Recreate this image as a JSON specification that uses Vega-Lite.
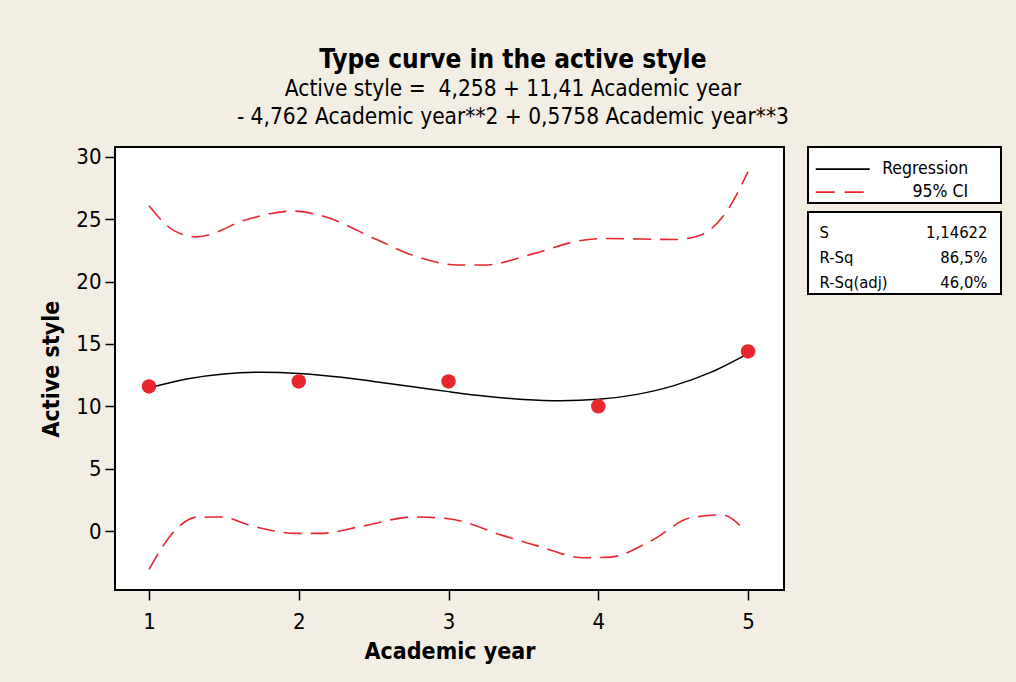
{
  "$schema": "https://vega.github.io/schema/vega-lite/v6.json",
  "background": "#F3EEE4",
  "padding": {"left": 39, "top": 47, "right": 15, "bottom": 30},
  "config": {
    "font": "DejaVu Sans Condensed, DejaVu Sans",
    "view": {"fill": "white", "stroke": "black", "strokeWidth": 2},
    "axis": {"labelFont": "DejaVu Sans Condensed, DejaVu Sans", "titleFont": "DejaVu Sans Condensed, DejaVu Sans"}
  },
  "title": {
    "text": "Type curve in the active style",
    "subtitle": ["Active style =\u00a0 4,258 + 11,41 Academic year", "- 4,762 Academic year**2 + 0,5758 Academic year**3"],
    "fontSize": 26,
    "fontWeight": "bold",
    "color": "black",
    "subtitleFontSize": 22.5,
    "subtitleColor": "black",
    "subtitleLineHeight": 28,
    "subtitlePadding": 5,
    "anchor": "middle",
    "dx": -8,
    "offset": 16
  },
  "datasets": {
    "fit": [
      {"year": 1.0, "value": 11.48}, {"year": 1.25, "value": 12.2}, {"year": 1.5, "value": 12.6},
      {"year": 1.75, "value": 12.73}, {"year": 2.0, "value": 12.64}, {"year": 2.25, "value": 12.38},
      {"year": 2.5, "value": 12.0}, {"year": 2.75, "value": 11.6}, {"year": 3.0, "value": 11.18},
      {"year": 3.25, "value": 10.81}, {"year": 3.5, "value": 10.55}, {"year": 3.75, "value": 10.44},
      {"year": 4.0, "value": 10.56}, {"year": 4.25, "value": 10.94}, {"year": 4.5, "value": 11.64},
      {"year": 4.75, "value": 12.72}, {"year": 5.0, "value": 14.23}
    ],
    "ci": [
      {"bound": "upper", "year": 1.0, "value": 26.09}, {"bound": "upper", "year": 1.17, "value": 24.07},
      {"bound": "upper", "year": 1.32, "value": 23.59}, {"bound": "upper", "year": 1.66, "value": 25.01},
      {"bound": "upper", "year": 1.96, "value": 25.66}, {"bound": "upper", "year": 2.14, "value": 25.33},
      {"bound": "upper", "year": 2.52, "value": 23.38}, {"bound": "upper", "year": 2.76, "value": 22.12},
      {"bound": "upper", "year": 3.06, "value": 21.34}, {"bound": "upper", "year": 3.24, "value": 21.34},
      {"bound": "upper", "year": 3.57, "value": 22.25}, {"bound": "upper", "year": 3.87, "value": 23.27},
      {"bound": "upper", "year": 4.05, "value": 23.46}, {"bound": "upper", "year": 4.51, "value": 23.38},
      {"bound": "upper", "year": 4.68, "value": 23.73}, {"bound": "upper", "year": 4.84, "value": 25.34},
      {"bound": "upper", "year": 5.0, "value": 28.82},
      {"bound": "lower", "year": 1.0, "value": -3.08}, {"bound": "lower", "year": 1.18, "value": 0.13},
      {"bound": "lower", "year": 1.33, "value": 1.13}, {"bound": "lower", "year": 1.48, "value": 1.13},
      {"bound": "lower", "year": 1.69, "value": 0.4}, {"bound": "lower", "year": 1.99, "value": -0.19},
      {"bound": "lower", "year": 2.14, "value": -0.19}, {"bound": "lower", "year": 2.43, "value": 0.4},
      {"bound": "lower", "year": 2.76, "value": 1.13}, {"bound": "lower", "year": 3.0, "value": 0.99},
      {"bound": "lower", "year": 3.36, "value": -0.35}, {"bound": "lower", "year": 3.6, "value": -1.21},
      {"bound": "lower", "year": 3.9, "value": -2.14}, {"bound": "lower", "year": 4.08, "value": -2.09},
      {"bound": "lower", "year": 4.35, "value": -0.8}, {"bound": "lower", "year": 4.62, "value": 1.07},
      {"bound": "lower", "year": 4.83, "value": 1.29}, {"bound": "lower", "year": 4.98, "value": 0.0}
    ],
    "obs": [
      {"year": 1, "value": 11.6}, {"year": 2, "value": 12.0}, {"year": 3, "value": 12.0},
      {"year": 4, "value": 10.0}, {"year": 5, "value": 14.4}
    ],
    "legendItems": [{"item": "Regression"}, {"item": "95% CI"}],
    "stats": [
      {"stat": "S", "shown": "1,14622"},
      {"stat": "R-Sq", "shown": "86,5%"},
      {"stat": "R-Sq(adj)", "shown": "46,0%"}
    ]
  },
  "hconcat": [
    {
      "width": 669,
      "height": 443,
      "encoding": {
        "x": {
          "field": "year", "type": "quantitative",
          "scale": {"domain": [0.773, 5.24], "nice": false, "zero": false},
          "axis": {
            "title": "Academic year", "values": [1, 2, 3, 4, 5], "grid": false, "domain": false,
            "tickColor": "black", "tickWidth": 1.5, "tickSize": 10,
            "labelFontSize": 22, "labelColor": "black", "labelPadding": 11,
            "titleFontSize": 23, "titleFontWeight": "bold", "titleColor": "black", "titlePadding": 8
          }
        },
        "y": {
          "field": "value", "type": "quantitative",
          "scale": {"domain": [-4.73, 30.8], "nice": false, "zero": false},
          "axis": {
            "title": "Active style", "values": [0, 5, 10, 15, 20, 25, 30], "grid": false, "domain": false,
            "tickColor": "black", "tickWidth": 1.5, "tickSize": 10,
            "labelFontSize": 22, "labelColor": "black", "labelPadding": 4,
            "titleFontSize": 23, "titleFontWeight": "bold", "titleColor": "black", "titlePadding": 12
          }
        }
      },
      "layer": [
        {
          "data": {"name": "ci"},
          "mark": {"type": "line", "color": "#E8262E", "strokeWidth": 1.6, "strokeDash": [18, 9], "interpolate": "monotone"},
          "encoding": {"detail": {"field": "bound"}}
        },
        {
          "data": {"name": "fit"},
          "mark": {"type": "line", "color": "black", "strokeWidth": 1.5, "interpolate": "monotone"}
        },
        {
          "data": {"name": "obs"},
          "mark": {"type": "point", "shape": "circle", "filled": true, "color": "#E8262E", "opacity": 1, "size": 210}
        }
      ]
    },
    {
      "spacing": 7,
      "vconcat": [
        {
          "width": 193,
          "height": 56,
          "data": {"name": "legendItems"},
          "encoding": {
            "y": {
              "field": "item", "type": "nominal", "sort": ["Regression", "95% CI"],
              "scale": {"type": "point", "padding": 0.72, "align": 0.67}, "axis": null
            }
          },
          "layer": [
            {
              "mark": {"type": "rule", "strokeWidth": 1.6},
              "encoding": {
                "x": {"datum": 0.04, "type": "quantitative", "scale": {"domain": [0, 1]}, "axis": null},
                "x2": {"datum": 0.32},
                "color": {"field": "item", "type": "nominal", "scale": {"domain": ["Regression", "95% CI"], "range": ["black", "#E8262E"]}, "legend": null},
                "strokeDash": {"field": "item", "type": "nominal", "scale": {"domain": ["Regression", "95% CI"], "range": [[1, 0], [19, 10]]}, "legend": null}
              }
            },
            {
              "mark": {"type": "text", "align": "right", "baseline": "middle", "fontSize": 17.5, "color": "black"},
              "encoding": {
                "x": {"datum": 0.83, "type": "quantitative", "scale": {"domain": [0, 1]}, "axis": null},
                "text": {"field": "item"}
              }
            }
          ]
        },
        {
          "width": 193,
          "height": 82,
          "data": {"name": "stats"},
          "encoding": {
            "y": {
              "field": "stat", "type": "nominal", "sort": null,
              "scale": {"type": "point", "padding": 0.64, "align": 0.66}, "axis": null
            }
          },
          "layer": [
            {
              "mark": {"type": "text", "align": "left", "baseline": "middle", "fontSize": 16.5, "color": "black"},
              "encoding": {
                "x": {"datum": 0.06, "type": "quantitative", "scale": {"domain": [0, 1]}, "axis": null},
                "text": {"field": "stat"}
              }
            },
            {
              "mark": {"type": "text", "align": "right", "baseline": "middle", "fontSize": 16.5, "color": "black"},
              "encoding": {
                "x": {"datum": 0.93, "type": "quantitative", "scale": {"domain": [0, 1]}, "axis": null},
                "text": {"field": "shown"}
              }
            }
          ]
        }
      ]
    }
  ],
  "spacing": 22
}
